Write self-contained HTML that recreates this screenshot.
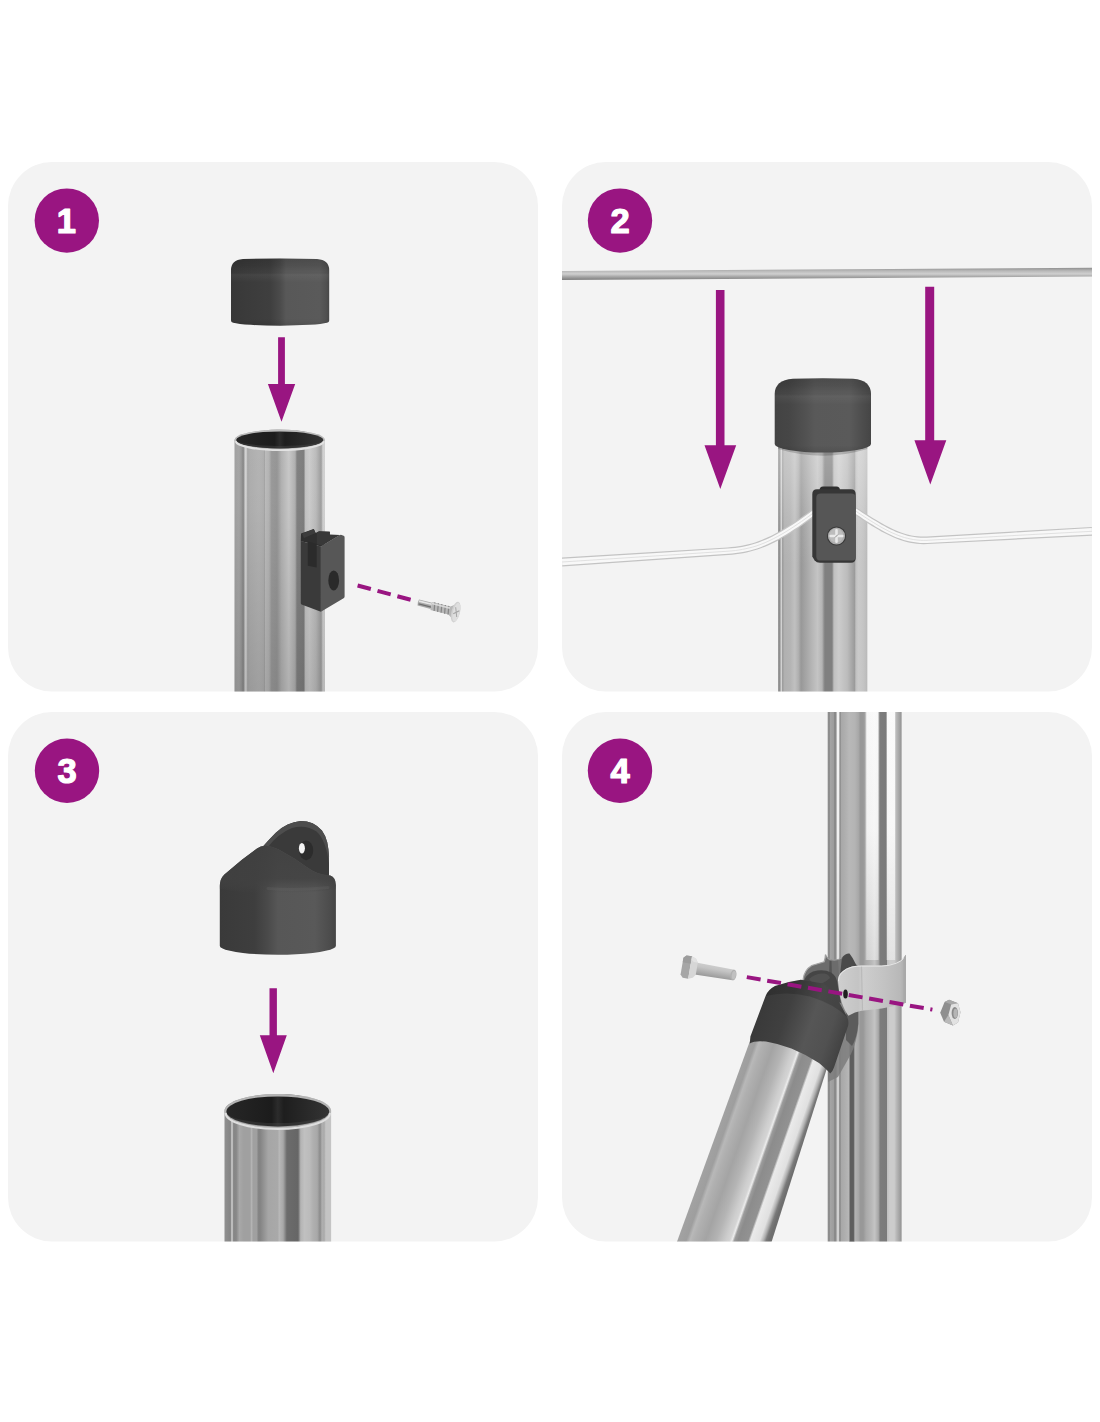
<!DOCTYPE html>
<html lang="en">
<head>
<meta charset="utf-8">
<title>Assembly steps</title>
<style>
html,body{margin:0;padding:0;background:#fff;}
body{width:1100px;height:1422px;overflow:hidden;position:relative;font-family:"Liberation Sans",sans-serif;}
svg{position:absolute;left:0;top:0;display:block;}
.num{font-family:"Liberation Sans",sans-serif;font-weight:700;font-size:34.6px;fill:#fff;stroke:#fff;stroke-width:1.2px;stroke-linejoin:round;text-anchor:middle;}
</style>
</head>
<body>
<svg width="1100" height="1422" viewBox="0 0 1100 1422">
<defs>
<!-- steel tube, panels 1 & 3 -->
<linearGradient id="tgA" x1="0" y1="0" x2="1" y2="0">
<stop offset="0" stop-color="#a0a0a0"/>
<stop offset="0.025" stop-color="#a4a4a4"/>
<stop offset="0.05" stop-color="#a6a6a6"/>
<stop offset="0.075" stop-color="#9a9a9a"/>
<stop offset="0.09" stop-color="#8c8c8c"/>
<stop offset="0.105" stop-color="#8e8e8e"/>
<stop offset="0.115" stop-color="#d4d4d4"/>
<stop offset="0.13" stop-color="#d0d0d0"/>
<stop offset="0.145" stop-color="#a8a8a8"/>
<stop offset="0.17" stop-color="#aeaeae"/>
<stop offset="0.27" stop-color="#b4b4b4"/>
<stop offset="0.32" stop-color="#b0b0b0"/>
<stop offset="0.328" stop-color="#9a9a9a"/>
<stop offset="0.338" stop-color="#bcbcbc"/>
<stop offset="0.38" stop-color="#b4b4b4"/>
<stop offset="0.41" stop-color="#9a9a9a"/>
<stop offset="0.47" stop-color="#969696"/>
<stop offset="0.52" stop-color="#b2b2b2"/>
<stop offset="0.6" stop-color="#c8c8c8"/>
<stop offset="0.67" stop-color="#b0b0b0"/>
<stop offset="0.69" stop-color="#828282"/>
<stop offset="0.765" stop-color="#7e7e7e"/>
<stop offset="0.785" stop-color="#c4c4c4"/>
<stop offset="0.83" stop-color="#cccccc"/>
<stop offset="0.9" stop-color="#bcbcbc"/>
<stop offset="0.945" stop-color="#a4a4a4"/>
<stop offset="0.958" stop-color="#9e9e9e"/>
<stop offset="0.97" stop-color="#c4c4c4"/>
<stop offset="0.99" stop-color="#d8d8d8"/>
<stop offset="1" stop-color="#c8c8c8"/>
</linearGradient>
<linearGradient id="tgA3" x1="0" y1="0" x2="1" y2="0">
<stop offset="0" stop-color="#909090"/>
<stop offset="0.05" stop-color="#868686"/>
<stop offset="0.058" stop-color="#8a8a8a"/>
<stop offset="0.064" stop-color="#bcbcbc"/>
<stop offset="0.077" stop-color="#bcbcbc"/>
<stop offset="0.085" stop-color="#868686"/>
<stop offset="0.11" stop-color="#888888"/>
<stop offset="0.14" stop-color="#a8a8a8"/>
<stop offset="0.18" stop-color="#a0a0a0"/>
<stop offset="0.24" stop-color="#a0a0a0"/>
<stop offset="0.253" stop-color="#b4b4b4"/>
<stop offset="0.27" stop-color="#a0a0a0"/>
<stop offset="0.3" stop-color="#a0a0a0"/>
<stop offset="0.32" stop-color="#838383"/>
<stop offset="0.335" stop-color="#848484"/>
<stop offset="0.41" stop-color="#a6a6a6"/>
<stop offset="0.5" stop-color="#a9a9a9"/>
<stop offset="0.513" stop-color="#b8b8b8"/>
<stop offset="0.55" stop-color="#a8a8a8"/>
<stop offset="0.585" stop-color="#6c6c6c"/>
<stop offset="0.69" stop-color="#666666"/>
<stop offset="0.715" stop-color="#b4b4b4"/>
<stop offset="0.75" stop-color="#c0c0c0"/>
<stop offset="0.8" stop-color="#bbbbbb"/>
<stop offset="0.83" stop-color="#b0b0b0"/>
<stop offset="0.87" stop-color="#a8a8a8"/>
<stop offset="0.897" stop-color="#8a8a8a"/>
<stop offset="0.915" stop-color="#b0b0b0"/>
<stop offset="0.935" stop-color="#aaaaaa"/>
<stop offset="0.95" stop-color="#c4c4c4"/>
<stop offset="0.995" stop-color="#c4c4c4"/>
<stop offset="1" stop-color="#b4b4b4"/>
</linearGradient>
<!-- steel tube, panel 2 -->
<linearGradient id="tgB" x1="0" y1="0" x2="1" y2="0">
<stop offset="0" stop-color="#909090"/>
<stop offset="0.024" stop-color="#8e8e8e"/>
<stop offset="0.03" stop-color="#d4d4d4"/>
<stop offset="0.041" stop-color="#d0d0d0"/>
<stop offset="0.05" stop-color="#9a9a9a"/>
<stop offset="0.07" stop-color="#b0b0b0"/>
<stop offset="0.136" stop-color="#b4b4b4"/>
<stop offset="0.187" stop-color="#c0c0c0"/>
<stop offset="0.228" stop-color="#b0b0b0"/>
<stop offset="0.258" stop-color="#989898"/>
<stop offset="0.29" stop-color="#a0a0a0"/>
<stop offset="0.34" stop-color="#acacac"/>
<stop offset="0.39" stop-color="#b8b8b8"/>
<stop offset="0.443" stop-color="#c4c4c4"/>
<stop offset="0.493" stop-color="#b4b4b4"/>
<stop offset="0.513" stop-color="#909090"/>
<stop offset="0.525" stop-color="#808080"/>
<stop offset="0.605" stop-color="#808080"/>
<stop offset="0.626" stop-color="#c0c0c0"/>
<stop offset="0.68" stop-color="#cccccc"/>
<stop offset="0.775" stop-color="#bcbcbc"/>
<stop offset="0.825" stop-color="#a8a8a8"/>
<stop offset="0.86" stop-color="#9a9a9a"/>
<stop offset="0.871" stop-color="#c0c0c0"/>
<stop offset="0.9" stop-color="#cacaca"/>
<stop offset="0.955" stop-color="#c4c4c4"/>
<stop offset="0.99" stop-color="#bcbcbc"/>
<stop offset="1" stop-color="#b0b0b0"/>
</linearGradient>
<!-- vertical tube panel 4, base -->
<linearGradient id="tgC" x1="0" y1="0" x2="1" y2="0">
<stop offset="0" stop-color="#8c8c8c"/>
<stop offset="0.027" stop-color="#8e8e8e"/>
<stop offset="0.035" stop-color="#a4a4a4"/>
<stop offset="0.083" stop-color="#9c9c9c"/>
<stop offset="0.09" stop-color="#8a8a8a"/>
<stop offset="0.114" stop-color="#8a8a8a"/>
<stop offset="0.125" stop-color="#d0d0d0"/>
<stop offset="0.15" stop-color="#d0d0d0"/>
<stop offset="0.16" stop-color="#909090"/>
<stop offset="0.175" stop-color="#929292"/>
<stop offset="0.185" stop-color="#a8a8a8"/>
<stop offset="0.243" stop-color="#b0b0b0"/>
<stop offset="0.29" stop-color="#b8b8b8"/>
<stop offset="0.367" stop-color="#b4b4b4"/>
<stop offset="0.416" stop-color="#a8a8a8"/>
<stop offset="0.44" stop-color="#989898"/>
<stop offset="0.48" stop-color="#989898"/>
<stop offset="0.52" stop-color="#aaaaaa"/>
<stop offset="0.59" stop-color="#b8b8b8"/>
<stop offset="0.635" stop-color="#c4c4c4"/>
<stop offset="0.685" stop-color="#a8a8a8"/>
<stop offset="0.71" stop-color="#7c7c7c"/>
<stop offset="0.795" stop-color="#7a7a7a"/>
<stop offset="0.808" stop-color="#c0c0c0"/>
<stop offset="0.84" stop-color="#cccccc"/>
<stop offset="0.9" stop-color="#cccccc"/>
<stop offset="0.93" stop-color="#b8b8b8"/>
<stop offset="0.96" stop-color="#a8a8a8"/>
<stop offset="0.985" stop-color="#9a9a9a"/>
<stop offset="1" stop-color="#a0a0a0"/>
</linearGradient>
<!-- white highlight bands for the upper part of panel-4 tube -->
<linearGradient id="tgCw" x1="0" y1="0" x2="1" y2="0">
<stop offset="0" stop-color="#fff" stop-opacity="0"/>
<stop offset="0.112" stop-color="#fff" stop-opacity="0"/>
<stop offset="0.125" stop-color="#fff" stop-opacity="0.75"/>
<stop offset="0.148" stop-color="#fff" stop-opacity="0.75"/>
<stop offset="0.16" stop-color="#fff" stop-opacity="0"/>
<stop offset="0.50" stop-color="#fff" stop-opacity="0"/>
<stop offset="0.525" stop-color="#fff" stop-opacity="0.92"/>
<stop offset="0.675" stop-color="#fff" stop-opacity="0.92"/>
<stop offset="0.69" stop-color="#fff" stop-opacity="0"/>
<stop offset="0.785" stop-color="#fff" stop-opacity="0"/>
<stop offset="0.80" stop-color="#fff" stop-opacity="0.92"/>
<stop offset="0.90" stop-color="#fff" stop-opacity="0.92"/>
<stop offset="0.915" stop-color="#fff" stop-opacity="0"/>
<stop offset="1" stop-color="#fff" stop-opacity="0"/>
</linearGradient>
<linearGradient id="fadeV" x1="0" y1="0" x2="0" y2="1">
<stop offset="0" stop-color="#fff" stop-opacity="1"/>
<stop offset="0.5" stop-color="#fff" stop-opacity="0.92"/>
<stop offset="1" stop-color="#fff" stop-opacity="0.5"/>
</linearGradient>
<mask id="mFade" maskUnits="userSpaceOnUse" x="820" y="700" width="100" height="300">
<rect x="820" y="700" width="100" height="260" fill="url(#fadeV)"/>
</mask>
<linearGradient id="darkDown" x1="0" y1="0" x2="0" y2="1">
<stop offset="0" stop-color="#000" stop-opacity="0"/>
<stop offset="0.25" stop-color="#000" stop-opacity="0.01"/>
<stop offset="1" stop-color="#000" stop-opacity="0.12"/>
</linearGradient>
<linearGradient id="lightUp" x1="0" y1="0" x2="0" y2="1">
<stop offset="0" stop-color="#fff" stop-opacity="0.32"/>
<stop offset="0.15" stop-color="#fff" stop-opacity="0.22"/>
<stop offset="0.35" stop-color="#fff" stop-opacity="0.06"/>
<stop offset="0.5" stop-color="#fff" stop-opacity="0"/>
<stop offset="1" stop-color="#fff" stop-opacity="0"/>
</linearGradient>
<!-- inclined strut gradient (user space, perpendicular to axis) -->
<linearGradient id="tgD" gradientUnits="userSpaceOnUse" x1="712.5" y1="1141.8" x2="793.5" y2="1170.1">
<stop offset="0" stop-color="#a2a2a2"/>
<stop offset="0.09" stop-color="#9e9e9e"/>
<stop offset="0.13" stop-color="#b8b8b8"/>
<stop offset="0.18" stop-color="#b0b0b0"/>
<stop offset="0.30" stop-color="#a4a4a4"/>
<stop offset="0.42" stop-color="#b4b4b4"/>
<stop offset="0.53" stop-color="#cecece"/>
<stop offset="0.57" stop-color="#d4d4d4"/>
<stop offset="0.595" stop-color="#ececec"/>
<stop offset="0.62" stop-color="#9c9c9c"/>
<stop offset="0.66" stop-color="#8c8c8c"/>
<stop offset="0.77" stop-color="#929292"/>
<stop offset="0.795" stop-color="#eaeaea"/>
<stop offset="0.90" stop-color="#e0e0e0"/>
<stop offset="0.94" stop-color="#b0b0b0"/>
<stop offset="0.97" stop-color="#7a7a7a"/>
<stop offset="1" stop-color="#6e6e6e"/>
</linearGradient>
<!-- dark plastic caps -->
<linearGradient id="capG" x1="0" y1="0" x2="1" y2="0">
<stop offset="0" stop-color="#383838"/>
<stop offset="0.1" stop-color="#3a3a3a"/>
<stop offset="0.4" stop-color="#3f3f3f"/>
<stop offset="0.5" stop-color="#4b4b4b"/>
<stop offset="0.56" stop-color="#585858"/>
<stop offset="0.9" stop-color="#5a5a5a"/>
<stop offset="0.97" stop-color="#505050"/>
<stop offset="1" stop-color="#474747"/>
</linearGradient>
<linearGradient id="capG3" x1="0" y1="0" x2="1" y2="0">
<stop offset="0" stop-color="#3a3a3a"/>
<stop offset="0.3" stop-color="#3e3e3e"/>
<stop offset="0.42" stop-color="#4b4b4b"/>
<stop offset="0.5" stop-color="#575757"/>
<stop offset="0.82" stop-color="#595959"/>
<stop offset="0.95" stop-color="#4c4c4c"/>
<stop offset="1" stop-color="#454545"/>
</linearGradient>
<linearGradient id="slopeG" gradientUnits="userSpaceOnUse" x1="0" y1="845" x2="0" y2="893">
<stop offset="0" stop-color="#404040" stop-opacity="0.9"/>
<stop offset="0.7" stop-color="#414141" stop-opacity="0.82"/>
<stop offset="0.86" stop-color="#434343" stop-opacity="0.45"/>
<stop offset="1" stop-color="#444" stop-opacity="0"/>
</linearGradient>
<linearGradient id="capG2" x1="0" y1="0" x2="1" y2="0">
<stop offset="0" stop-color="#434343"/>
<stop offset="0.15" stop-color="#464646"/>
<stop offset="0.3" stop-color="#505050"/>
<stop offset="0.42" stop-color="#595959"/>
<stop offset="0.78" stop-color="#5a5a5a"/>
<stop offset="0.9" stop-color="#4e4e4e"/>
<stop offset="1" stop-color="#454545"/>
</linearGradient>
<linearGradient id="capTop" x1="0" y1="0" x2="0" y2="1">
<stop offset="0" stop-color="#000" stop-opacity="0.16"/>
<stop offset="0.1" stop-color="#000" stop-opacity="0.10"/>
<stop offset="0.19" stop-color="#000" stop-opacity="0.0"/>
<stop offset="0.24" stop-color="#fff" stop-opacity="0.045"/>
<stop offset="0.36" stop-color="#fff" stop-opacity="0"/>
<stop offset="0.9" stop-color="#000" stop-opacity="0"/>
<stop offset="1" stop-color="#000" stop-opacity="0.10"/>
</linearGradient>
<linearGradient id="inner" x1="0" y1="0" x2="1" y2="0">
<stop offset="0" stop-color="#262626"/>
<stop offset="0.44" stop-color="#1c1c1c"/>
<stop offset="0.5" stop-color="#2c2c2c"/>
<stop offset="0.56" stop-color="#1e1e1e"/>
<stop offset="1" stop-color="#343434"/>
</linearGradient>
<linearGradient id="wireTop" x1="0" y1="0" x2="0" y2="1">
<stop offset="0" stop-color="#8e8e8e"/>
<stop offset="0.25" stop-color="#b8b8b8"/>
<stop offset="0.5" stop-color="#cfcfcf"/>
<stop offset="0.72" stop-color="#a8a8a8"/>
<stop offset="1" stop-color="#7d7d7d"/>
</linearGradient>
<linearGradient id="clampG" x1="0" y1="0" x2="1" y2="0">
<stop offset="0" stop-color="#cfcfcf"/>
<stop offset="0.3" stop-color="#c4c4c4"/>
<stop offset="0.36" stop-color="#cecece"/>
<stop offset="0.7" stop-color="#c2c2c2"/>
<stop offset="0.92" stop-color="#b8b8b8"/>
<stop offset="1" stop-color="#a8a8a8"/>
</linearGradient>
<linearGradient id="boltG" x1="0" y1="0" x2="0" y2="1">
<stop offset="0" stop-color="#cdcdcd"/>
<stop offset="0.3" stop-color="#c4c4c4"/>
<stop offset="0.7" stop-color="#ababab"/>
<stop offset="1" stop-color="#989898"/>
</linearGradient>
<clipPath id="cp1"><rect x="8" y="162" width="530" height="529.5" rx="44" ry="44"/></clipPath>
<clipPath id="cp2"><rect x="562" y="162" width="530" height="529.5" rx="44" ry="44"/></clipPath>
<clipPath id="cp3"><rect x="8" y="712" width="530" height="529.5" rx="44" ry="44"/></clipPath>
<clipPath id="cp4"><rect x="562" y="712" width="530" height="529.5" rx="44" ry="44"/></clipPath>
</defs>

<!-- panel backgrounds -->
<rect x="8" y="162" width="530" height="529.5" rx="44" ry="44" fill="#f3f3f3"/>
<rect x="562" y="162" width="530" height="529.5" rx="44" ry="44" fill="#f3f3f3"/>
<rect x="8" y="712" width="530" height="529.5" rx="44" ry="44" fill="#f3f3f3"/>
<rect x="562" y="712" width="530" height="529.5" rx="44" ry="44" fill="#f3f3f3"/>

<!-- ===== PANEL 1 ===== -->
<g clip-path="url(#cp1)">
<!-- tube -->
<path d="M234.5,440 L234.5,700 L325,700 L325,440 A45.25,10.4 0 0 0 234.5,440 Z" fill="url(#tgA)"/>
<rect x="234.5" y="440" width="90.5" height="260" fill="url(#darkDown)"/>
<ellipse cx="279.75" cy="440" rx="45.25" ry="10.4" fill="#bcbcbc"/>
<ellipse cx="279.75" cy="439.9" rx="43.6" ry="8.5" fill="url(#inner)"/>
<path d="M236.2,440.3 A43.6,8.5 0 0 0 323.3,440.3 A43.6,6 0 0 1 236.2,440.3 Z" fill="#4a4a4a" opacity="0.4"/>
<path d="M235.6,441.2 A44.2,9.4 0 0 0 323.9,441.2" fill="none" stroke="#e2e2e2" stroke-width="1.9"/>
<!-- cap -->
<path d="M231,270 Q231,260 243,258.9 Q280,258.3 317,258.9 Q329.2,260 329.2,270 L329.2,320.5 Q329.2,322.4 327,322.8 A49,4 0 0 1 233.2,322.8 Q231,322.4 231,320.5 Z" fill="url(#capG)"/>
<path d="M231,270 Q231,260 243,258.9 Q280,258.3 317,258.9 Q329.2,260 329.2,270 L329.2,320.5 Q329.2,322.4 327,322.8 A49,4 0 0 1 233.2,322.8 Q231,322.4 231,320.5 Z" fill="url(#capTop)"/>
<!-- arrow -->
<path d="M278.1,337.2 H284.9 V384 H295.2 L281.5,421.8 L267.9,384 H278.1 Z" fill="#991581"/>
<!-- clip -->
<path d="M300.8,541 L301,533.5 L313.8,529 L315.6,533 L319,531.2 L329.8,531.8 L329.8,540 L320.9,546.4 Z" fill="#2f2f2f"/>
<path d="M300.8,541 L320.9,546.4 L320.9,611.7 L301.6,604.6 Q300.8,604.3 300.8,603 Z" fill="#3a3a3a"/>
<path d="M307.8,541.5 L316.7,544 L316.7,567.6 L307.8,565.7 Z" fill="#2b2b2b"/>
<path d="M320.9,547.2 Q320.9,546.4 321.8,545.8 L339.5,535.2 Q340.5,534.6 341.6,535 L343.6,535.8 Q344.6,536.2 344.6,537.4 L344.6,596.6 Q344.6,597.6 343.6,598.2 L320.9,611.7 Z" fill="#575757"/>
<path d="M302,533.8 L313.8,529 L315.6,533 L304,538 Z" fill="#3c3c3c"/>
<path d="M319,531.4 L329.8,531.8 L329.8,534.5 L340,535 L322,545.8 L316.8,544 L316.8,533 Z" fill="#383838"/>
<ellipse cx="333.7" cy="580.4" rx="5.4" ry="10" fill="#2a2a2a"/>
<!-- dashed guide -->
<line x1="357.6" y1="585.5" x2="410.8" y2="599.8" stroke="#991581" stroke-width="4" stroke-dasharray="13.7 6.9"/>
<!-- screw -->
<g transform="translate(418.3,602.6) rotate(14.2)">
<path d="M0,-3.1 Q-1.2,0 0,3.1 L13.5,3.3 L13.5,-3.3 Z" fill="#a9a9a9"/>
<rect x="0.4" y="-2.4" width="13" height="1.6" fill="#e6e6e6"/>
<rect x="0.6" y="0.6" width="13" height="1.3" fill="#6e6e6e"/>
<path d="M13.5,-4.1 L32,-4.1 L35.5,-6.4 L35.5,6.4 L32,4.1 L13.5,4.1 Z" fill="#b7b7b7"/>
<g stroke="#858585" stroke-width="1.2">
<line x1="16" y1="-4.3" x2="17.4" y2="4.3"/><line x1="19.6" y1="-4.3" x2="21" y2="4.3"/><line x1="23.2" y1="-4.3" x2="24.6" y2="4.3"/><line x1="26.8" y1="-4.3" x2="28.2" y2="4.3"/><line x1="30.4" y1="-4.3" x2="31.8" y2="4.3"/>
</g>
<path d="M13.5,-3.2 L32,-3.2 L32,-1.6 L13.5,-1.6 Z" fill="#e4e4e4" opacity="0.8"/>
<ellipse cx="38.6" cy="0" rx="4.3" ry="10.6" fill="#cfcfcf"/>
<ellipse cx="39.2" cy="0" rx="3.4" ry="9.6" fill="#dedede"/>
<path d="M37.4,-4.6 L40.8,4.6 M36.6,2.2 L41.8,-2.2" stroke="#a4a4a4" stroke-width="1" fill="none"/>
</g>
</g>

<!-- ===== PANEL 2 ===== -->
<g clip-path="url(#cp2)">
<!-- top horizontal wire -->
<path d="M562,270.9 L1092,267.8 L1092,276.6 L562,280 Z" fill="url(#wireTop)"/>
<!-- arrows -->
<path d="M715.9,290.1 H724.5 V445.3 H736.2 L720.3,489 L704.5,445.3 H715.9 Z" fill="#991581"/>
<path d="M925.2,286.7 H934.2 V440.3 H946.3 L930.3,484.4 L914.4,440.3 H925.2 Z" fill="#991581"/>
<!-- tube -->
<rect x="778.1" y="440" width="89.2" height="260" fill="url(#tgB)"/>
<rect x="778.1" y="440" width="89.2" height="252" fill="url(#lightUp)"/>
<!-- shadow under cap -->
<path d="M778.1,444 Q823,458 867.3,444 L867.3,449 Q823,462.5 778.1,449 Z" fill="#000" opacity="0.18"/>
<!-- cap -->
<path d="M774.7,394 Q774.7,380.2 793,378.7 Q823,377.7 853,378.7 Q871,380.2 871,394 L871,444 A48.15,8.6 0 0 1 774.7,444 Z" fill="url(#capG2)"/>
<path d="M774.7,394 Q774.7,380.2 793,378.7 Q823,377.7 853,378.7 Q871,380.2 871,394 L871,444 A48.15,8.6 0 0 1 774.7,444 Z" fill="url(#capTop)"/>
<!-- wires -->
<path d="M562.3,566.4 L645.3,560.7 L728.3,555.0 L732.1,554.7 L735.8,554.3 L739.5,553.8 L743.1,553.2 L746.7,552.4 L750.3,551.6 L753.8,550.6 L757.3,549.5 L760.9,548.3 L764.4,546.9 L768.0,545.4 L771.6,543.7 L775.3,541.9 L779.0,539.9 L782.8,537.8 L786.8,535.4 L790.8,532.9 L794.9,530.2 L799.2,527.4 L803.7,524.3 L808.3,521.0 L813.1,517.5 L818.1,513.8 L813.9,508.2 L808.9,511.8 L804.2,515.2 L799.6,518.4 L795.2,521.4 L791.0,524.2 L786.9,526.8 L783.0,529.2 L779.2,531.4 L775.5,533.5 L771.9,535.4 L768.4,537.1 L765.0,538.6 L761.6,540.0 L758.3,541.3 L755.0,542.4 L751.7,543.4 L748.4,544.3 L745.1,545.1 L741.8,545.7 L738.4,546.3 L734.9,546.7 L731.4,547.1 L727.7,547.4 L644.7,552.5 L561.7,557.6 Z" fill="#c3c3c3"/>
<path d="M562.2,565.2 L645.2,559.5 L728.2,553.8 L732.0,553.5 L735.7,553.1 L739.3,552.6 L742.9,552.0 L746.5,551.3 L750.0,550.4 L753.5,549.5 L757.0,548.4 L760.5,547.2 L764.0,545.8 L767.5,544.3 L771.1,542.6 L774.7,540.8 L778.4,538.9 L782.2,536.7 L786.1,534.4 L790.1,531.9 L794.3,529.2 L798.6,526.4 L803.0,523.3 L807.6,520.0 L812.4,516.5 L817.4,512.9 L814.6,509.1 L809.7,512.8 L804.9,516.2 L800.3,519.4 L795.9,522.4 L791.7,525.2 L787.6,527.8 L783.6,530.3 L779.8,532.5 L776.1,534.5 L772.5,536.4 L769.0,538.2 L765.5,539.7 L762.1,541.1 L758.7,542.4 L755.4,543.6 L752.1,544.6 L748.7,545.5 L745.4,546.2 L742.0,546.9 L738.6,547.5 L735.1,547.9 L731.5,548.3 L727.8,548.6 L644.8,553.7 L561.8,558.8 Z" fill="#f8f8f8"/>
<path d="M562.0,562.0 L645.0,556.6 L728.0,551.2 L731.7,550.9 L735.4,550.5 L739.0,550.0 L742.5,549.4 L745.9,548.7 L749.4,547.9 L752.8,547.0 L756.2,546.0 L759.6,544.8 L763.0,543.5 L766.5,542.0 L770.0,540.4 L773.6,538.6 L777.3,536.7 L781.0,534.6 L784.9,532.3 L788.9,529.9 L793.0,527.2 L797.2,524.4 L801.6,521.4 L806.2,518.1 L811.0,514.7 L816.0,511.0" fill="none" stroke="#dedede" stroke-width="0.9"/>
<path d="M1091.8,526.9 L1008.8,531.7 L926.8,536.5 L923.6,536.6 L920.5,536.5 L917.5,536.3 L914.4,535.9 L911.4,535.4 L908.4,534.7 L905.5,533.9 L902.5,533.0 L899.6,531.9 L896.6,530.8 L893.7,529.5 L890.7,528.1 L887.8,526.6 L884.8,525.0 L881.8,523.3 L878.8,521.6 L875.8,519.8 L872.7,517.9 L869.6,515.9 L866.5,513.9 L863.4,511.9 L860.2,509.8 L856.9,507.7 L853.1,513.5 L856.3,515.7 L859.5,517.8 L862.7,519.9 L865.8,521.9 L868.9,523.9 L872.0,525.9 L875.1,527.8 L878.2,529.6 L881.3,531.4 L884.4,533.0 L887.5,534.6 L890.6,536.1 L893.8,537.5 L896.9,538.8 L900.1,540.0 L903.3,541.0 L906.6,541.9 L909.9,542.7 L913.3,543.3 L916.7,543.8 L920.1,544.0 L923.6,544.2 L927.2,544.1 L1009.2,539.9 L1092.2,535.7 Z" fill="#c3c3c3"/>
<path d="M1091.8,528.1 L1008.8,532.9 L926.9,537.7 L923.6,537.8 L920.5,537.7 L917.3,537.5 L914.2,537.1 L911.2,536.6 L908.1,535.9 L905.1,535.1 L902.1,534.1 L899.1,533.0 L896.1,531.9 L893.2,530.6 L890.2,529.2 L887.2,527.7 L884.2,526.1 L881.2,524.4 L878.2,522.6 L875.2,520.8 L872.1,518.9 L869.0,516.9 L865.9,514.9 L862.7,512.9 L859.5,510.8 L856.3,508.7 L853.7,512.5 L857.0,514.7 L860.2,516.8 L863.3,518.9 L866.5,520.9 L869.6,522.9 L872.7,524.8 L875.7,526.7 L878.8,528.6 L881.9,530.3 L885.0,532.0 L888.0,533.5 L891.1,535.0 L894.2,536.4 L897.3,537.7 L900.5,538.8 L903.7,539.9 L906.9,540.8 L910.2,541.5 L913.5,542.1 L916.8,542.6 L920.2,542.9 L923.6,543.0 L927.1,542.9 L1009.2,538.7 L1092.2,534.5 Z" fill="#f8f8f8"/>
<path d="M1092.0,531.3 L1009.0,535.8 L927.0,540.3 L923.6,540.4 L920.3,540.3 L917.1,540.0 L913.8,539.6 L910.7,539.0 L907.5,538.3 L904.4,537.5 L901.3,536.5 L898.2,535.4 L895.2,534.1 L892.1,532.8 L889.1,531.4 L886.1,529.8 L883.0,528.2 L880.0,526.5 L877.0,524.7 L873.9,522.8 L870.8,520.9 L867.7,518.9 L864.6,516.9 L861.4,514.8 L858.2,512.7 L855.0,510.6" fill="none" stroke="#dedede" stroke-width="0.9"/>
<!-- clip -->
<path d="M819.6,490 Q819.6,486.4 823,486.4 L836.5,486.4 Q839.9,486.4 839.9,490 L839.9,493 L819.6,493 Z" fill="#2e2e2e"/>
<path d="M812.3,494 Q812.3,489.2 817,489.2 L851,489.2 Q855.7,489.4 855.7,494 L855.7,558 Q855.7,562.8 851,562.8 L820,562.8 Q816.5,562.8 814.5,560.2 L812.3,556.5 Z" fill="#363636"/>
<path d="M816.3,498 Q816.3,493.6 820.8,493.6 L851.2,493.6 Q855.7,493.6 855.7,498 L855.7,556.4 Q855.7,560.6 851.2,560.6 L820.8,560.6 Q816.3,560.6 816.3,556.4 Z" fill="#565656"/>
<!-- screw head -->
<circle cx="836.5" cy="536" r="9.6" fill="#383838"/>
<circle cx="836.5" cy="536" r="8.6" fill="#adadad"/>
<circle cx="836.2" cy="535.6" r="7" fill="#bdbdbd"/>
<path d="M836.5,530.2 V541.8 M830.7,536 H842.3" stroke="#e9e9e9" stroke-width="2.6" stroke-linecap="round" fill="none"/>
<path d="M835,537.5 L838,534.5" stroke="#8e8e8e" stroke-width="1" fill="none"/>
</g>

<!-- ===== PANEL 3 ===== -->
<g clip-path="url(#cp3)">
<!-- tube -->
<path d="M224.5,1111 L224.5,1250 L331.1,1250 L331.1,1111 A53.3,17 0 0 0 224.5,1111 Z" fill="url(#tgA3)"/>
<ellipse cx="277.8" cy="1111" rx="53.3" ry="17" fill="#b4b4b4"/>
<ellipse cx="277.8" cy="1111.4" rx="51.4" ry="15" fill="url(#inner)"/>
<path d="M226.4,1112 A51.4,15 0 0 0 329.2,1112 A51.4,11 0 0 1 226.4,1112 Z" fill="#4c4c4c" opacity="0.35"/>
<path d="M225.6,1113 A52.2,16 0 0 0 330,1113" fill="none" stroke="#dedede" stroke-width="2"/>
<!-- lug -->
<path d="M262.5,847 Q268.5,840 275.8,832.7 Q281,827.6 287.7,824.5 Q294,821.6 300.7,820.9 Q307,820.9 312.5,823.3 Q318,826 321.9,830.4 Q325.6,835.4 327.2,842.2 Q328.6,848.6 329,856.4 L329,879 L298,879 Z" fill="#3a3a3a"/>
<path d="M262.5,847 Q268.5,840 275.8,832.7 Q281,827.6 287.7,824.5 Q294,821.6 300.7,820.9 Q307,820.9 312.5,823.3 Q318,826 321.9,830.4 Q325.6,835.4 327.2,842.2 Q328.6,848.6 329,856.4 L329,864 Q326,840 316.5,831.6 Q306,824.2 292,828 Q278,833.6 267.5,847.6 Z" fill="#4d4d4d"/>
<ellipse cx="306.2" cy="850.4" rx="7" ry="9.8" fill="#2c2c2c"/>
<ellipse cx="301.9" cy="848.3" rx="3" ry="5.2" fill="#f3f3f3"/>
<!-- cap body -->
<path d="M219.8,945.8 L219.8,886 Q219.9,878.6 224.4,874.4 L241.6,859.9 L257,848.4 Q261.4,845.2 266.5,845.8 Q272,846.4 278.2,849.3 L294.7,858.7 L306.6,867 Q312,871 318,873.2 Q324,874.8 330.2,875.6 Q335.6,877.4 335.9,885 L335.9,945.8 Q335.9,947.6 333.6,948.2 A58,9 0 0 1 222.1,948.2 Q219.8,947.6 219.8,945.8 Z" fill="url(#capG3)"/>
<path d="M219.8,886 Q219.9,878.6 224.4,874.4 L241.6,859.9 L257,848.4 Q261.4,845.2 266.5,845.8 Q272,846.4 278.2,849.3 L294.7,858.7 L306.6,867 Q312,871 318,873.2 Q324,874.8 330.2,875.6 Q335.6,877.4 335.9,885 L335.9,889 Q277.8,898.5 219.8,889 Z" fill="url(#slopeG)"/>
<path d="M268,888.5 Q295,891 328,887.4" fill="none" stroke="#6c6c6c" stroke-width="3" opacity="0.22" stroke-linecap="round"/>
<!-- arrow -->
<path d="M269.5,988.2 H276.9 V1035.2 H286.8 L273.3,1073.3 L259.8,1035.2 H269.5 Z" fill="#991581"/>
</g>

<!-- ===== PANEL 4 ===== -->
<g clip-path="url(#cp4)">
<!-- vertical tube -->
<rect x="827.7" y="700" width="74" height="560" fill="url(#tgC)"/>
<rect x="828" y="700" width="74" height="262" fill="url(#tgCw)" mask="url(#mFade)"/>
<!-- reflection/shadow of the strut on the lower tube -->
<rect x="849.8" y="1040" width="4.2" height="210" fill="#5e5e5e"/>
<rect x="849.2" y="1040" width="0.8" height="210" fill="#868686"/>
<rect x="853.9" y="1040" width="0.8" height="210" fill="#8e8e8e"/>
<path d="M845,1000 L858.5,1006 L858.5,1024 Q857,1042 851,1054 L838,1077 L828,1082 L828,1000 Z" fill="#7c7c7c" opacity="0.85"/>
<path d="M846,1008 L858.2,1010 L858.2,1024 Q857,1038 852,1046 L846,1040 Z" fill="#555" opacity="0.85"/>
<!-- clamp: back ring + ear -->
<path d="M825.4,954.6 Q827,958.6 831,959.8 Q837,961 842.4,957.6 L846,956 L860,968 L860,992 L825.4,992 Z" fill="#777777"/>
<path d="M842,957.5 Q846,953 849.5,953.6 Q853,958 856,964.5 Q858,967 862,967 L852,980 L840,975 Z" fill="#4a4a4a"/>
<path d="M803,980 Q804.2,970 811.8,965.5 L824.2,961.8 Q825.4,958 825.5,954.6 Q827,958.8 831,959.8 Q835,960.6 838,959.6 L840,992 L806,992 Z" fill="#6c6c6c"/>
<path d="M803,980 Q804.2,970 811.8,965.5 L824.2,961.8 Q825.4,958 825.5,954.6" fill="none" stroke="#a4a4a4" stroke-width="1.3"/>
<path d="M825.6,955 Q827,958.8 831,959.8 Q837,961 842.4,957.6" fill="none" stroke="#9c9c9c" stroke-width="1.1"/>
<path d="M829.5,961 L831.5,961 L832.5,992 L828.5,992 Z" fill="#4f4f4f" opacity="0.8"/>
<!-- strut -->
<path d="M761.2,1010 L836.6,1038 L769,1250 L674,1250 Z" fill="url(#tgD)"/>
<!-- lug of strut cap -->
<path d="M803.5,982 Q806,974.5 813,971.6 Q823,968.6 831,972.4 Q836,975.4 837,981 L841,1003 L800,992 Z" fill="#454545"/>
<path d="M809,979 Q815,973 824,973.4 Q829,974 830,978 Q824,984 814,984.5 Z" fill="#575757" opacity="0.7"/>
<!-- strut cap -->
<linearGradient id="capS" gradientUnits="userSpaceOnUse" x1="757" y1="1012" x2="846" y2="1043">
<stop offset="0" stop-color="#393939"/>
<stop offset="0.3" stop-color="#404040"/>
<stop offset="0.58" stop-color="#565656"/>
<stop offset="0.8" stop-color="#515151"/>
<stop offset="1" stop-color="#3f3f3f"/>
</linearGradient>
<path d="M749.8,1043.4 L750.4,1036.4 L765.6,996 Q768,989.6 775,986 Q788,981.6 800.9,979.8 L823,983.5 Q832,988.5 837.7,999.5 L847.3,1017.3 Q849,1021 848.2,1025.4 L834,1067.4 Q832.6,1071.6 830.2,1073.4 Q826.6,1069.4 819,1063 Q806,1054.6 791.4,1048.6 Q778,1043.6 766,1041.6 Q755,1040.4 749.8,1043.4 Z" fill="url(#capS)"/>
<path d="M765.6,996 Q768,989.6 775,986 Q788,981.6 800.9,979.8 L823,983.5 Q832,988.5 837.7,999.5 L847.3,1017.3 Q835,1004.5 810,996.5 Q786,990.6 765.6,996 Z" fill="#000" opacity="0.16"/>
<!-- clamp front band -->
<path d="M837.9,981 Q838.2,975.4 841.1,972.6 Q845.5,968.2 852,966.6 Q857,965.5 861.5,965.6 L881.8,965.6 Q890,965.2 896.4,962.7 Q901.4,960.6 903.6,958 Q905,956.4 905.4,954.7 L905.9,955.6 L905.9,1002.7 L903.6,1003.6 Q893,1006.8 881.8,1008.5 L861.5,1010.7 Q855,1011.8 848.4,1015.8 Q844.5,1010.6 841.6,1002 Q838.6,992 837.9,981 Z" fill="url(#clampG)"/>
<path d="M905.4,954.9 L905.9,955.6 L905.9,1002.7 L903.6,1003.6 L903.6,958 Z" fill="#a9a9a9"/>
<path d="M861.5,966 L862.5,1010.4" stroke="#b2b2b2" stroke-width="1.2" fill="none" opacity="0.7"/>
<path d="M838.4,981 Q838.7,975.6 841.5,972.9 Q845.8,968.6 852,967 Q857,966 861.5,966.1 L881.8,966.1 Q890,965.7 896.4,963.2 Q901.4,961.1 903.6,958.5" fill="none" stroke="#e6e6e6" stroke-width="1"/>
<ellipse cx="845.5" cy="994" rx="2.3" ry="4.5" fill="#1f1f1f"/>
<!-- bolt -->
<g transform="translate(682,966.2) rotate(9.8)">
<path d="M12,-6.1 L52.2,-5.3 L52.2,5.3 L12,6.1 Z" fill="url(#boltG)"/>
<ellipse cx="52.2" cy="0" rx="3" ry="5.3" fill="#b0b0b0"/>
<ellipse cx="52.6" cy="0" rx="2" ry="4.1" fill="#c0c0c0"/>
<path d="M0,-8.6 L2.6,-11.4 L8.2,-11.4 L8.2,11.2 L2.6,11.2 L0,8.4 Z" fill="#a6a6a6"/>
<path d="M0,-8.6 L2.6,-11.4 L8.2,-11.4 L8.2,-4 L0,-4 Z" fill="#9c9c9c"/>
<path d="M8.2,-11.4 L12.6,-9.8 L15,-6.2 L15,6 L12.6,9.6 L8.2,11.2 Z" fill="#d6d6d6"/>
<path d="M8.2,-11.4 L12.6,-9.8 L15,-6.2 L11,-6.2 L8.2,-8 Z" fill="#e2e2e2"/>
</g>
<!-- nut -->
<path d="M940.2,1012.8 L944.6,1002 L949.1,999.7 L958,1003.3 L960.5,1012.2 L958,1022.4 L952.9,1025.5 L944,1021.7 Z" fill="#8f8f8f"/>
<path d="M944.6,1002 L949.1,999.7 L958,1003.3 L951.5,1004.5 Z" fill="#a8a8a8"/>
<path d="M951.2,1004.4 L958,1003.3 L960.6,1012.2 L958,1022.4 L952.9,1025.5 L948.4,1015 Z" fill="#e2e2e2"/>
<path d="M944,1021.7 L948.4,1015 L952.9,1025.5 Z" fill="#b9b9b9"/>
<ellipse cx="954.8" cy="1012.9" rx="3.2" ry="6" fill="#8a8a8a"/>
<ellipse cx="955.5" cy="1013.3" rx="2.1" ry="4.6" fill="#b5b5b5"/>
<!-- dashed guide -->
<line x1="746.8" y1="977.1" x2="932.4" y2="1009.6" stroke="#991581" stroke-width="4" stroke-dasharray="14 6.7"/>
</g>

<!-- badges -->
<circle cx="66.8" cy="220.6" r="32.2" fill="#991581"/>
<circle cx="620" cy="220.6" r="32.2" fill="#991581"/>
<circle cx="67" cy="770.7" r="32.2" fill="#991581"/>
<circle cx="620" cy="770.7" r="32.2" fill="#991581"/>
<text class="num" x="66.4" y="233.1">1</text>
<text class="num" x="620" y="233.4">2</text>
<text class="num" x="67" y="783.1">3</text>
<text class="num" x="620" y="783.1">4</text>
</svg>
</body>
</html>
